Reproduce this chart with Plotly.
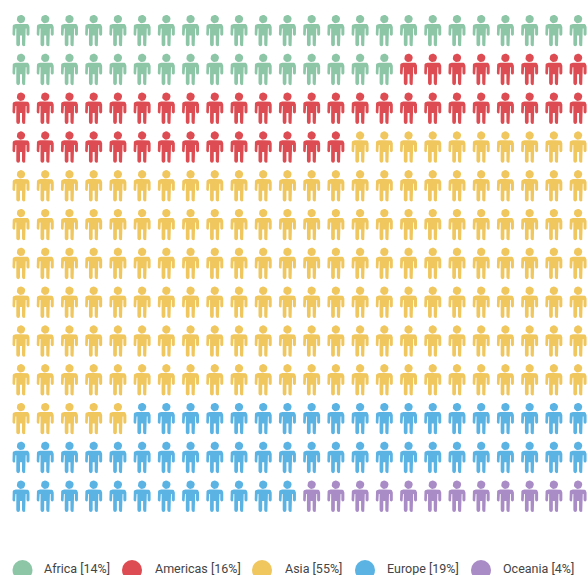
import numpy as np
import plotly.graph_objects as go

categories = ["Africa", "Americas", "Asia", "Europe", "Oceania"]
percent_labels = ["14%", "16%", "55%", "19%", "4%"]
icon_counts = [40, 46, 159, 55, 12]
colors = ["#8CC6A7", "#DD4C52", "#F0C75F", "#5BB3E4", "#A98BC6"]

W, H = 587, 575
COLS, ROWS = 24, 13
X0, DX, Y0, DY = 21.0, 24.22, 30.5, 38.8
LEG_CX = [22.5, 132, 262, 365, 481]
LEG_TX = [44, 155, 285, 387, 503]
LEG_CY, LEG_TY = 570, 569.5


def arc(cx, cy, r, a0, a1, n=6):
    a = np.radians(np.linspace(a0, a1, n))
    return [(cx + r * np.cos(t), cy + r * np.sin(t)) for t in a]


# person outline, in pixels around its centre (y down), right half then mirrored
half = []
half += [(0, -6.6), (5.2, -6.6)]
half += arc(5.4, -3.6, 3.1, -90, 0, 5)
half += [(8.5, 3.8)]
half += arc(7.0, 3.8, 1.5, 0, 180, 5)
half += [(5.5, -2.0), (4.7, -2.0), (4.7, 14.0)]
half += arc(2.85, 14.0, 1.85, 0, 180, 5)
half += [(1.0, 5.0), (0, 5.0)]
body = half + [(-x, y) for x, y in reversed(half)]
head = arc(0, -11.4, 4.2, 0, 360, 20)
glyph = [(x, y) for x, y in body] + [(None, None)] + head + [(None, None)]

fig = go.Figure()
sequence = [i for i, n in enumerate(icon_counts) for _ in range(n)]
for i, cat in enumerate(categories):
    xs, ys = [], []
    for k, s in enumerate(sequence):
        if s != i:
            continue
        c, r = k % COLS, k // COLS
        for gx, gy in glyph:
            xs.append(None if gx is None else c + gx / DX)
            ys.append(None if gy is None else r + gy / DY)
    fig.add_trace(go.Scatter(x=xs, y=ys, mode="lines", fill="toself", fillcolor=colors[i],
                             line=dict(width=0, color=colors[i]), name=cat,
                             hoverinfo="name", showlegend=False))


def to_x(px):
    return (px - X0) / DX


def to_y(px):
    return (px - Y0) / DY


fig.add_trace(go.Scatter(x=[to_x(p) for p in LEG_CX], y=[to_y(LEG_CY)] * 5, mode="markers",
                         marker=dict(size=20, color=colors, line=dict(width=0)),
                         showlegend=False, hoverinfo="skip", cliponaxis=False))
fig.add_trace(go.Scatter(x=[to_x(p) for p in LEG_TX], y=[to_y(LEG_TY)] * 5, mode="text",
                         text=[f"{c} [{p}]" for c, p in zip(categories, percent_labels)],
                         textposition="middle right",
                         textfont=dict(family="Roboto", size=12.5, color="#444444"),
                         showlegend=False, hoverinfo="skip", cliponaxis=False))

fig.update_layout(
    width=W, height=H, margin=dict(l=0, r=0, t=0, b=0), autosize=False,
    paper_bgcolor="white", plot_bgcolor="white", showlegend=False,
    xaxis=dict(range=[to_x(0), to_x(W)], visible=False, fixedrange=True),
    yaxis=dict(range=[to_y(H), to_y(0)], visible=False, fixedrange=True),
)
fig.write_html("out.html", config={"displayModeBar": False},
               post_script="document.body.style.margin='0';document.body.style.overflow='hidden';")
